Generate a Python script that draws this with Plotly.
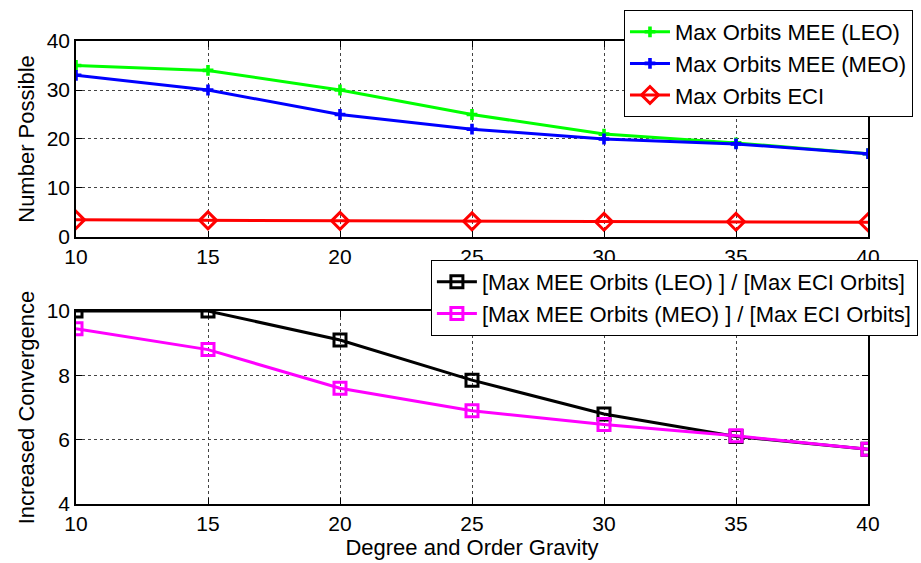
import plotly.graph_objects as go

degree = [10, 15, 20, 25, 30, 35, 40]
mee_leo = [35, 34, 30, 25, 21, 19.2, 17]
mee_meo = [33, 30, 25, 22, 20, 19, 17]
eci = [3.5, 3.4, 3.3, 3.2, 3.1, 3.1, 3.0]
ratio_leo = [10, 10, 9.1, 7.85, 6.8, 6.1, 5.7]
ratio_meo = [9.45, 8.8, 7.6, 6.9, 6.47, 6.12, 5.7]

FONT = "Liberation Sans, Arial, sans-serif"

fig = go.Figure()
fig.add_trace(go.Scatter(x=degree, y=mee_leo, name="Max Orbits MEE (LEO)", mode="lines+markers",
                         line=dict(color="#00ff00", width=3),
                         marker=dict(symbol="cross", size=9, color="#00ff00"),
                         xaxis="x", yaxis="y", legend="legend"))
fig.add_trace(go.Scatter(x=degree, y=mee_meo, name="Max Orbits MEE (MEO)", mode="lines+markers",
                         line=dict(color="#0000ff", width=3),
                         marker=dict(symbol="cross", size=9, color="#0000ff"),
                         xaxis="x", yaxis="y", legend="legend"))
fig.add_trace(go.Scatter(x=degree, y=eci, name="Max Orbits ECI", mode="lines+markers",
                         line=dict(color="#ff0000", width=3),
                         marker=dict(symbol="diamond-open", size=13, color="#ff0000", line=dict(width=3)),
                         xaxis="x", yaxis="y", legend="legend"))
fig.add_trace(go.Scatter(x=degree, y=ratio_leo, name="[Max MEE Orbits (LEO) ] / [Max ECI Orbits]", mode="lines+markers",
                         line=dict(color="#000000", width=3),
                         marker=dict(symbol="square-open", size=12, color="#000000", line=dict(width=3)),
                         xaxis="x2", yaxis="y2", legend="legend2"))
fig.add_trace(go.Scatter(x=degree, y=ratio_meo, name="[Max MEE Orbits (MEO) ] / [Max ECI Orbits]", mode="lines+markers",
                         line=dict(color="#ff00ff", width=3),
                         marker=dict(symbol="square-open", size=12, color="#ff00ff", line=dict(width=3)),
                         xaxis="x2", yaxis="y2", legend="legend2"))

axis_common = dict(showline=True, linecolor="black", linewidth=1.5, mirror="ticks",
                   ticks="inside", ticklen=6, tickcolor="black",
                   showgrid=True, gridcolor="#444444", griddash="dot", gridwidth=1,
                   zeroline=False, tickfont=dict(size=21, color="black", family=FONT))

fig.update_layout(
    width=921, height=563,
    margin=dict(l=76, r=53, t=41, b=59, autoexpand=False),
    paper_bgcolor="white", plot_bgcolor="white",
    font=dict(family=FONT, color="black"),
    xaxis=dict(domain=[0, 1], anchor="y", range=[10, 40], tickvals=[10, 15, 20, 25, 30, 35, 40], **axis_common),
    yaxis=dict(domain=[0.5767, 1.0], anchor="x", range=[0, 40], tickvals=[0, 10, 20, 30, 40],
               title=dict(text="Number Possible", font=dict(size=22), standoff=6), **axis_common),
    xaxis2=dict(domain=[0, 1], anchor="y2", range=[10, 40], tickvals=[10, 15, 20, 25, 30, 35, 40],
                title=dict(text="Degree and Order Gravity", font=dict(size=22), standoff=1), **axis_common),
    yaxis2=dict(domain=[0, 0.4168], anchor="x2", range=[4, 10], tickvals=[4, 6, 8, 10],
                title=dict(text="Increased Convergence", font=dict(size=22), standoff=6), **axis_common),
    legend=dict(x=1.0568, y=1.067, xanchor="right", yanchor="top", bgcolor="white",
                bordercolor="black", borderwidth=1, font=dict(size=22, family=FONT),
                tracegroupgap=0, itemwidth=40),
    legend2=dict(x=1.063, y=0.527, xanchor="right", yanchor="top", bgcolor="white",
                 bordercolor="black", borderwidth=1, font=dict(size=22, family=FONT),
                 tracegroupgap=0, itemwidth=40),
    showlegend=True,
)

fig.write_html("out.html")
